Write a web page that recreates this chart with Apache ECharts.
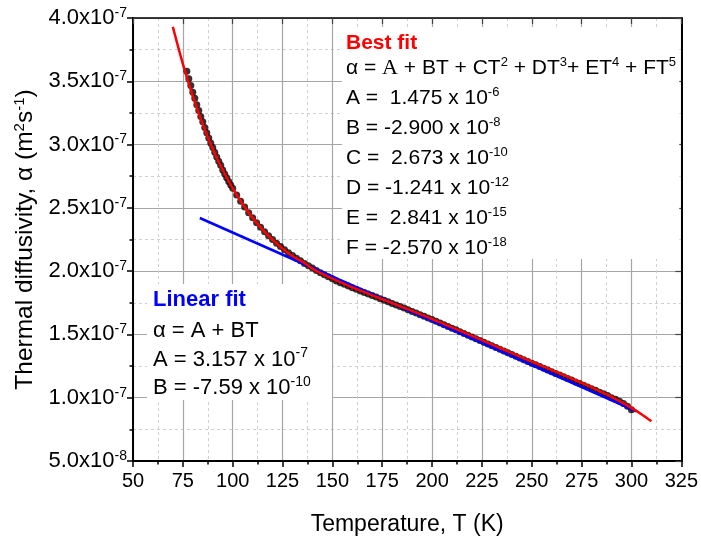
<!DOCTYPE html>
<html>
<head>
<meta charset="utf-8">
<script src="https://cdn.jsdelivr.net/npm/echarts@6/dist/echarts.min.js"></script>
<style>
  html, body { margin: 0; padding: 0; background: #fff; }
  #chart { width: 701px; height: 541px; }
</style>
</head>
<body>
<div id="chart"></div>
<script>
// Measured thermal diffusivity, values in units of 1e-7 m^2/s
const measT = [
  77, 78, 79, 80, 81, 82, 83, 84, 85, 86, 87, 88, 89, 90, 91, 92, 93, 94, 95, 96, 97, 98, 99, 100,
  102, 104, 106, 108, 110, 112, 114, 116, 118, 120, 122, 124, 126, 128, 130, 132, 134, 136, 138, 140,
  142, 144, 146, 148, 150, 152, 154, 156, 158, 160, 162, 164, 166, 168, 170, 172, 174, 176, 178, 180,
  182, 184, 186, 188, 190, 192, 194, 196, 198, 200, 202, 204, 206, 208, 210, 212, 214, 216, 218, 220,
  222, 224, 226, 228, 230, 232, 234, 236, 238, 240, 242, 244, 246, 248, 250, 252, 254, 256, 258, 260,
  262, 264, 266, 268, 270, 272, 274, 276, 278, 280, 282, 284, 286, 288, 290, 292, 294, 296, 298, 300
];
const measAlpha = [
  3.580, 3.520, 3.466, 3.413, 3.366, 3.315, 3.270, 3.222, 3.180, 3.134, 3.094, 3.051, 3.013, 2.977, 2.940, 2.902, 2.868, 2.836, 2.799, 2.768, 2.738, 2.709, 2.681, 2.654,
  2.602, 2.552, 2.506, 2.462, 2.421, 2.382, 2.346, 2.311, 2.279, 2.250, 2.221, 2.195, 2.170, 2.146, 2.124, 2.102, 2.082, 2.061, 2.042, 2.024,
  2.005, 1.988, 1.971, 1.955, 1.939, 1.923, 1.909, 1.896, 1.882, 1.869, 1.857, 1.844, 1.832, 1.819, 1.807, 1.795, 1.782, 1.770, 1.758, 1.745,
  1.733, 1.720, 1.708, 1.695, 1.682, 1.669, 1.656, 1.643, 1.630, 1.617, 1.604, 1.590, 1.577, 1.563, 1.549, 1.536, 1.522, 1.508, 1.494, 1.480,
  1.466, 1.452, 1.438, 1.424, 1.410, 1.397, 1.383, 1.369, 1.355, 1.341, 1.328, 1.314, 1.300, 1.287, 1.273, 1.260, 1.246, 1.233, 1.219, 1.206,
  1.192, 1.179, 1.165, 1.152, 1.139, 1.125, 1.112, 1.098, 1.085, 1.071, 1.058, 1.044, 1.031, 1.017, 1.000, 0.987, 0.972, 0.955, 0.933, 0.905
];

// Fifth-order polynomial fit curve (units of 1e-7)
const polyT = [70, 72, 75, 80, 85, 90, 95, 100, 105, 110, 115, 120, 125, 130, 135, 140, 145, 150, 155, 160,
  165, 170, 175, 180, 185, 190, 195, 200, 205, 210, 215, 220, 225, 230, 235, 240, 245, 250, 255, 260,
  265, 270, 275, 280, 285, 290, 295, 300, 305, 310];
const polyAlpha = [3.930, 3.809, 3.638, 3.383, 3.160, 2.967, 2.799, 2.654, 2.529, 2.421, 2.328, 2.248, 2.179, 2.119, 2.075, 2.020, 1.978, 1.940, 1.905, 1.871,
  1.840, 1.809, 1.778, 1.748, 1.717, 1.686, 1.654, 1.622, 1.589, 1.556, 1.523, 1.489, 1.455, 1.421, 1.387, 1.353, 1.319, 1.285, 1.252, 1.218,
  1.185, 1.151, 1.117, 1.082, 1.045, 1.007, 0.965, 0.920, 0.870, 0.814];

// Linear fit line (units of 1e-7)
const linT = [83.5, 302.5];
const linAlpha = [2.420, 0.893];

// Axis ranges
const xMin = 50, xMax = 325, xStep = 25;
const yMin = 0.5, yMax = 4.0, yStep = 0.5;

// Annotation texts
const bestTitle = 'Best fit';
const bestLines = [
  '\u03b1 = {serif|A} + BT + CT{s|2} + DT{s|3}+ ET{s|4} + FT{s|5}',
  'A =  1.475 x 10{s|-6}',
  'B = -2.900 x 10{s|-8}',
  'C =  2.673 x 10{s|-10}',
  'D = -1.241 x 10{s|-12}',
  'E =  2.841 x 10{s|-15}',
  'F = -2.570 x 10{s|-18}'
];
const linTitle = 'Linear fit';
const linLines = [
  '\u03b1 = A + BT',
  'A = 3.157 x 10{s|-7}',
  'B = -7.59 x 10{s|-10}'
];

const FONT = 'Liberation Sans, Arial, sans-serif';
const zip = (xs, ys) => xs.map((x, i) => [x, ys[i]]);

function richStyles(size) {
  return {
    n: { fontFamily: FONT, fontSize: size, lineHeight: size + 4, color: '#000' },
    s: { fontFamily: FONT, fontSize: Math.round(size * 0.64), lineHeight: Math.round(size * 0.64), verticalAlign: 'top', color: '#000' },
    serif: { fontFamily: 'Liberation Serif, serif', fontSize: size + 1, lineHeight: size + 4, color: '#000' }
  };
}

function textLine(str, x, y, size) {
  // plain segments get the "n" style
  const parts = str.split(/(\{[a-z]+\|[^}]*\})/).filter(p => p.length);
  const rich = parts.map(p => p.startsWith('{') ? p : '{n|' + p + '}').join('');
  return {
    type: 'text', x: x, y: y, z: 100,
    style: { text: rich, rich: richStyles(size), verticalAlign: 'middle', align: 'left' }
  };
}

function yLabel(v) {
  if (v < 1) return '{n|' + (v * 10).toFixed(1) + 'x10}{s|-8}';
  return '{n|' + v.toFixed(1) + 'x10}{s|-7}';
}

const majorGrid = { show: true, lineStyle: { color: '#a6a6a6', width: 1.2, type: 'solid' } };
const minorGrid = { show: true, lineStyle: { color: '#cfcfcf', width: 1, type: [3, 3] } };

const chart = echarts.init(document.getElementById('chart'), null, { renderer: 'canvas' });

chart.setOption({
  animation: false,
  backgroundColor: '#fff',
  grid: { left: 133, top: 18, right: 13, bottom: 78, containLabel: false },
  xAxis: [
    {
      type: 'value', min: xMin, max: xMax, interval: xStep, position: 'bottom',
      name: 'Temperature, T (K)', nameLocation: 'middle', nameGap: 52,
      nameTextStyle: { fontFamily: FONT, fontSize: 23, color: '#000' },
      axisLine: { show: true, onZero: false, lineStyle: { color: '#000', width: 2 } },
      axisTick: { show: true, inside: false, length: 6, lineStyle: { color: '#000', width: 1.5 } },
      minorTick: { show: true, splitNumber: 2, length: 3.5, lineStyle: { color: '#000', width: 1.5 } },
      axisLabel: { fontFamily: FONT, fontSize: 20, color: '#000', margin: 10, showMaxLabel: true, showMinLabel: true },
      splitLine: majorGrid,
      minorSplitLine: minorGrid
    },
    {
      type: 'value', min: xMin, max: xMax, interval: xStep, position: 'top',
      axisLine: { show: true, onZero: false, lineStyle: { color: '#000', width: 1.5 } },
      axisTick: { show: true, inside: true, length: 6, lineStyle: { color: '#444', width: 1.2 } },
      axisLabel: { show: false }, splitLine: { show: false }
    }
  ],
  yAxis: [
    {
      type: 'value', min: yMin, max: yMax, interval: yStep, position: 'left',
      name: 'Thermal diffusivity, \u03b1 (m{s|2}s{s|-1})',
      nameLocation: 'middle', nameGap: 93, nameRotate: 90,
      nameTextStyle: {
        fontFamily: FONT, fontSize: 24.5, color: '#000',
        rich: {
          s: { fontFamily: FONT, fontSize: 15, lineHeight: 15, verticalAlign: 'top', color: '#000' }
        }
      },
      axisLine: { show: true, onZero: false, lineStyle: { color: '#000', width: 2 } },
      axisTick: { show: true, inside: false, length: 6, lineStyle: { color: '#000', width: 1.5 } },
      minorTick: { show: true, splitNumber: 2, length: 3.5, lineStyle: { color: '#000', width: 1.5 } },
      axisLabel: {
        margin: 6, formatter: yLabel,
        rich: {
          n: { fontFamily: FONT, fontSize: 22, lineHeight: 24, color: '#000' },
          s: { fontFamily: FONT, fontSize: 14, lineHeight: 13, verticalAlign: 'top', color: '#000' }
        }
      },
      splitLine: majorGrid,
      minorSplitLine: minorGrid
    },
    {
      type: 'value', min: yMin, max: yMax, interval: yStep, position: 'right',
      axisLine: { show: true, onZero: false, lineStyle: { color: '#000', width: 2 } },
      axisTick: { show: true, inside: true, length: 6, lineStyle: { color: '#444', width: 1.2 } },
      axisLabel: { show: false }, splitLine: { show: false }
    }
  ],
  series: [
    {
      name: 'measured', type: 'scatter', xAxisIndex: 0, yAxisIndex: 0,
      data: zip(measT, measAlpha), symbol: 'circle', symbolSize: 7,
      itemStyle: { color: '#000' }, z: 2
    },
    {
      name: 'linear', type: 'line', xAxisIndex: 0, yAxisIndex: 0,
      data: zip(linT, linAlpha), showSymbol: false,
      lineStyle: { color: '#0000ff', width: 2.5 }, z: 3
    },
    {
      name: 'poly', type: 'line', xAxisIndex: 0, yAxisIndex: 0,
      data: zip(polyT, polyAlpha), showSymbol: false, smooth: 0.3,
      lineStyle: { color: '#ff0000', width: 2.5 }, z: 4
    }
  ]
});

// Annotation panels; the right panel stops just inside the plot frame
const frameRight = chart.convertToPixel({ xAxisIndex: 0 }, xMax);
const BEST_SIZE = 21, LIN_SIZE = 22;
const graphics = [
  { type: 'rect', z: 90, shape: { x: 342, y: 27, width: frameRight - 2 - 342, height: 232 }, style: { fill: '#fff' } },
  { type: 'text', x: 346, y: 43, z: 100,
    style: { text: bestTitle, fontFamily: FONT, fontSize: BEST_SIZE, fontWeight: 'bold', fill: '#ff0000', verticalAlign: 'middle' } },
  { type: 'rect', z: 90, shape: { x: 147, y: 284, width: 185, height: 116 }, style: { fill: '#fff' } },
  { type: 'text', x: 153, y: 300, z: 100,
    style: { text: linTitle, fontFamily: FONT, fontSize: LIN_SIZE, fontWeight: 'bold', fill: '#0000ff', verticalAlign: 'middle' } }
];
bestLines.forEach((s, i) => graphics.push(textLine(s, 346, 68 + i * 30, BEST_SIZE)));
linLines.forEach((s, i) => graphics.push(textLine(s, 153, 331 + i * 28.5, LIN_SIZE)));
chart.setOption({ graphic: graphics });
</script>
</body>
</html>
